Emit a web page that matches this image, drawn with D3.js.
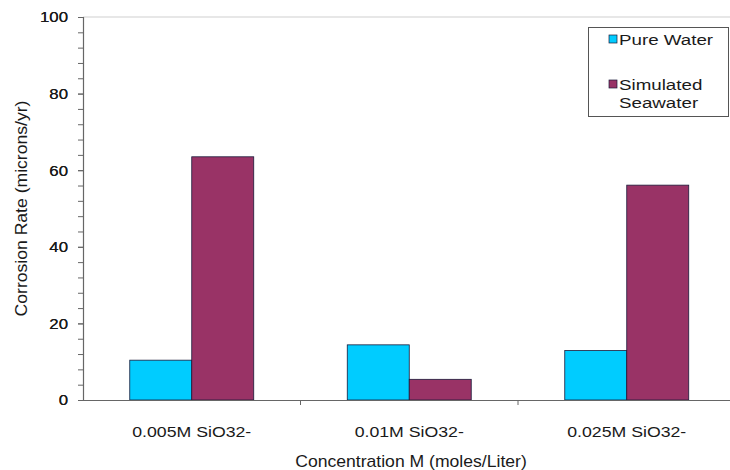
<!DOCTYPE html>
<html>
<head>
<meta charset="utf-8">
<script src="https://cdn.jsdelivr.net/npm/d3@7"></script>
<style>
  html, body { margin: 0; padding: 0; background: #fff; }
  svg { display: block; font-family: "Liberation Sans", Arial, sans-serif; }
</style>
</head>
<body>
<svg id="chart" width="730" height="470"></svg>
<script>
// Corrosion rate by silicate concentration
const categories = ["0.005M SiO32-", "0.01M SiO32-", "0.025M SiO32-"];
const seriesNames = ["Pure Water", "Simulated Seawater"];
const pureWater = [10.4, 14.4, 12.9];
const simulatedSeawater = [63.5, 5.4, 56.1];
const yTicks = [0, 20, 40, 60, 80, 100];
const colors = ["#00CCFF", "#993366"];

const svg = d3.select("#chart");
const plotLeft = 83, plotRight = 735.5, plotTop = 17, plotBottom = 400;
const textColor = "#1a1a1a";

const x0 = d3.scaleBand().domain(categories).range([plotLeft, plotRight]).padding(0);
const bw = x0.bandwidth();
const x1 = d3.scaleBand().domain(seriesNames)
  .range([bw * 0.215, bw * 0.785]).padding(0);
const y = d3.scaleLinear().domain([0, 100]).range([plotBottom, plotTop]);

const values = [pureWater, simulatedSeawater];

// text that is slightly widened along its baseline
function wideText(parent, str, x, yPos, size, sx, anchor, rotate) {
  return parent.append("text")
    .attr("transform", `translate(${x},${yPos})${rotate ? " rotate(-90)" : ""} scale(${sx},1)`)
    .attr("text-anchor", anchor || "start")
    .attr("font-size", size)
    .attr("fill", textColor)
    .text(str);
}

// top border of the plot area
svg.append("line")
  .attr("x1", plotLeft).attr("x2", 730)
  .attr("y1", y(100)).attr("y2", y(100))
  .attr("stroke", "#d0d0d0").attr("stroke-width", 1.2);

// bars
categories.forEach((c, i) => {
  const g = svg.append("g").attr("transform", `translate(${x0(c)},0)`);
  seriesNames.forEach((s, j) => {
    g.append("rect")
      .attr("x", x1(s))
      .attr("y", y(values[j][i]))
      .attr("width", x1.bandwidth())
      .attr("height", y(0) - y(values[j][i]))
      .attr("fill", colors[j])
      .attr("stroke", "#1a1a3a")
      .attr("stroke-width", 0.8);
  });
});

// y axis: major ticks with labels, minor ticks every 4
const ySx = 1.12;
const yAxis = d3.axisLeft(y).tickValues(d3.range(0, 101, 4).concat(yTicks))
  .tickSize(5)
  .tickFormat(d => yTicks.includes(d) ? d : "");
const gy = svg.append("g").attr("transform", `translate(${plotLeft},0)`).call(yAxis);
gy.select(".domain").attr("stroke", "#666").attr("stroke-width", 1.2);
gy.selectAll(".tick line").attr("stroke", "#666");
gy.selectAll(".tick text")
  .attr("font-size", 15).attr("fill", textColor)
  .attr("font-family", "Liberation Sans, Arial, sans-serif")
  .attr("transform", `scale(${ySx},1)`)
  .attr("x", -15 / ySx);

// x axis
const xSx = 1.18;
const xAxis = d3.axisBottom(x0).tickSize(0).tickPadding(0);
const gx = svg.append("g").attr("transform", `translate(0,${plotBottom})`).call(xAxis);
gx.select(".domain").attr("stroke", "#666").attr("stroke-width", 1.2);
gx.selectAll(".tick text")
  .attr("font-size", 15).attr("fill", textColor)
  .attr("font-family", "Liberation Sans, Arial, sans-serif")
  .attr("y", 37).attr("dy", null)
  .attr("transform", `scale(${xSx},1)`);
// separators between categories
gx.selectAll(".sep").data(categories.slice(1)).enter().append("line")
  .attr("x1", d => x0(d)).attr("x2", d => x0(d))
  .attr("y1", 0).attr("y2", 5)
  .attr("stroke", "#666");

// axis titles
wideText(svg, "Concentration M (moles/Liter)", 411, 467, 16, 1.1, "middle");
wideText(svg, "Corrosion Rate (microns/yr)", 27, (plotTop + plotBottom) / 2, 16, 1.1, "middle", true);

// legend
const lg = svg.append("g");
lg.append("rect")
  .attr("x", 588.5).attr("y", 27.5).attr("width", 140).attr("height", 89)
  .attr("fill", "#fff").attr("stroke", "#555").attr("stroke-width", 1);
const legendRows = [
  { lines: ["Pure Water"], y: 35 },
  { lines: ["Simulated", "Seawater"], y: 80 }
];
legendRows.forEach((r, j) => {
  lg.append("rect")
    .attr("x", 609).attr("y", r.y).attr("width", 8).attr("height", 8)
    .attr("fill", colors[j]).attr("stroke", "#1a1a3a").attr("stroke-width", 0.7);
  r.lines.forEach((t, k) => {
    wideText(lg, t, 619, r.y + 9.5 + k * 18, 15, 1.25, "start");
  });
});
</script>
</body>
</html>
